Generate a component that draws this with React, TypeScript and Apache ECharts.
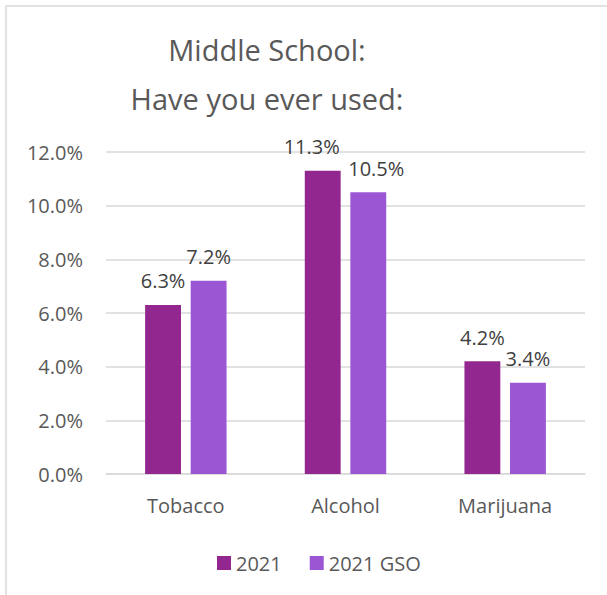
import React, { useEffect, useRef } from "react";
import * as echarts from "echarts";

const categories = ["Tobacco", "Alcohol", "Marijuana"];
const series2021 = [6.3, 11.3, 4.2];
const series2021GSO = [7.2, 10.5, 3.4];
const seriesNames = ["2021", "2021 GSO"];
const titleLines = ["Middle School:", "Have you ever used:"];

const FONT = "'Open Sans', sans-serif";

export default function App() {
  const ref = useRef<HTMLDivElement>(null);
  useEffect(() => {
    if (!ref.current) return;
    const chart = echarts.init(ref.current, null, { renderer: "svg" });
    const label = {
      show: true,
      position: "top",
      distance: 14,
      fontSize: 20,
      color: "#404040",
      fontFamily: FONT,
      formatter: (p: any) => p.value.toFixed(1) + "%",
    };
    // Alcohol labels are nudged apart so they don't overlap (as in the original)
    const withShift = (arr: number[], idx: number, dx: number) =>
      arr.map((v, i) => (i === idx ? { value: v, label: { offset: [dx, 0] } } : v));
    chart.setOption({
      animation: false,
      backgroundColor: "#ffffff",
      graphic: [
        {
          type: "rect",
          shape: { x: 6, y: 6, width: 800, height: 800 },
          style: { fill: "none", stroke: "#d9d9d9", lineWidth: 1.5 },
          silent: true,
        },
        {
          type: "text",
          x: 267,
          y: 49,
          style: {
            text: titleLines[0],
            fontSize: 29,
            fontFamily: FONT,
            fill: "#595959",
            align: "center",
            verticalAlign: "middle",
          },
        },
        {
          type: "text",
          x: 267,
          y: 98,
          style: {
            text: titleLines[1],
            fontSize: 29,
            fontFamily: FONT,
            fill: "#595959",
            align: "center",
            verticalAlign: "middle",
          },
        },
      ],
      legend: {
        data: seriesNames,
        left: 212,
        top: 548,
        icon: "rect",
        itemWidth: 14,
        itemHeight: 14,
        itemGap: 28,
        itemStyle: { borderWidth: 0 },
        textStyle: { fontSize: 20, color: "#595959", fontFamily: FONT },
      },
      grid: { left: 106, right: 22, top: 152, bottom: 121 },
      xAxis: {
        type: "category",
        data: categories,
        axisLine: { lineStyle: { color: "#d9d9d9", width: 1.5 } },
        axisTick: { show: false },
        axisLabel: { fontSize: 20, color: "#595959", fontFamily: FONT, margin: 21 },
      },
      yAxis: {
        type: "value",
        min: 0,
        max: 12,
        interval: 2,
        axisLine: { show: false },
        axisTick: { show: false },
        splitLine: { lineStyle: { color: "#d9d9d9", width: 1.5 } },
        axisLabel: {
          fontSize: 20,
          color: "#595959",
          fontFamily: FONT,
          margin: 23,
          formatter: (v: number) => v.toFixed(1) + "%",
        },
      },
      series: [
        {
          name: seriesNames[0],
          type: "bar",
          data: withShift(series2021, 1, -11),
          itemStyle: { color: "#92278F" },
          barGap: "27%",
          barCategoryGap: "49%",
          label,
        },
        {
          name: seriesNames[1],
          type: "bar",
          data: withShift(series2021GSO, 1, 8),
          itemStyle: { color: "#9B57D3" },
          barGap: "27%",
          barCategoryGap: "49%",
          label,
        },
      ],
    });
    return () => chart.dispose();
  }, []);
  return (
    <div
      ref={ref}
      style={{ position: "absolute", left: 0, top: 0, width: 607, height: 595 }}
    />
  );
}
